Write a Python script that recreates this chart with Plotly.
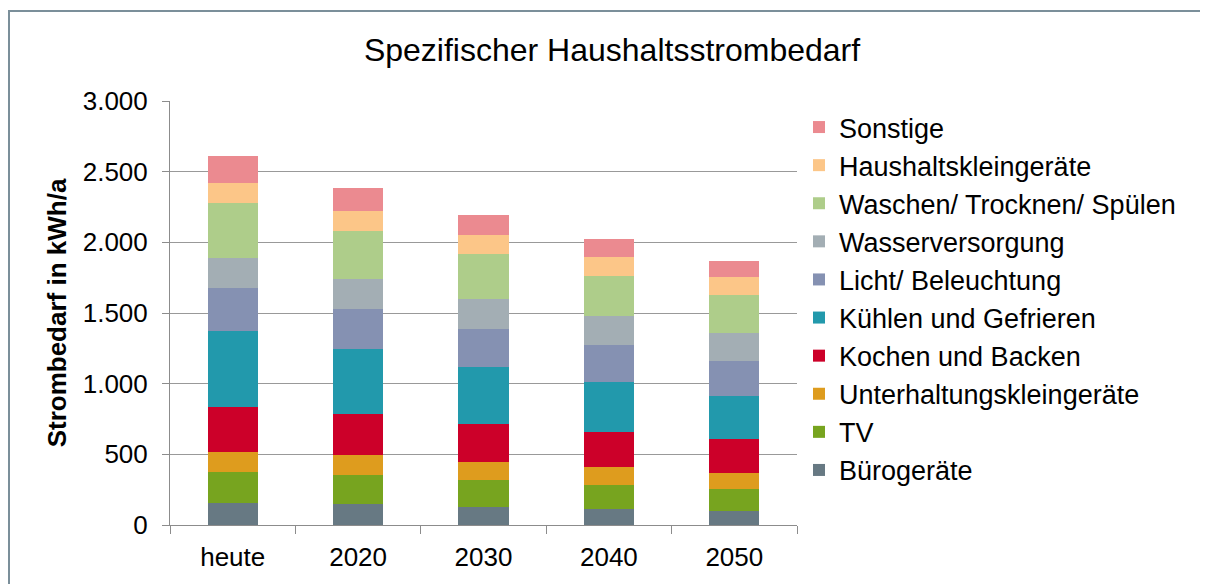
import plotly.graph_objects as go

categories = ["heute", "2020", "2030", "2040", "2050"]

# series, bottom to top
buerogeraete = [153, 146, 127, 111, 99]
tv = [221, 211, 189, 171, 154]
unterhaltung = [142, 139, 132, 125, 118]
kochen = [318, 292, 268, 249, 235]
kuehlen = [537, 454, 405, 353, 309]
licht = [304, 287, 269, 262, 245]
wasser = [214, 211, 210, 207, 201]
waschen = [386, 342, 318, 287, 266]
haushaltsklein = [144, 143, 134, 134, 131]
sonstige = [193, 160, 144, 125, 108]

series = [
    ("Bürogeräte", buerogeraete, "#677983"),
    ("TV", tv, "#77A41F"),
    ("Unterhaltungskleingeräte", unterhaltung, "#DE9C1E"),
    ("Kochen und Backen", kochen, "#CC0029"),
    ("Kühlen und Gefrieren", kuehlen, "#2299AC"),
    ("Licht/ Beleuchtung", licht, "#8591B2"),
    ("Wasserversorgung", wasser, "#A3AEB4"),
    ("Waschen/ Trocknen/ Spülen", waschen, "#AECD8A"),
    ("Haushaltskleingeräte", haushaltsklein, "#FCC688"),
    ("Sonstige", sonstige, "#EB8A90"),
]

yticks = [0, 500, 1000, 1500, 2000, 2500, 3000]
yticklabels = ["0", "500", "1.000", "1.500", "2.000", "2.500", "3.000"]

FONT = "Liberation Sans, Arial, sans-serif"

fig = go.Figure()
for i, (name, vals, col) in enumerate(series):
    fig.add_trace(go.Bar(
        x=categories, y=vals, name=name, legendrank=100 - i,
        marker=dict(color=col, line=dict(width=0)),
    ))

OFF = 8  # page body margin
W, H = 1200, 576
L, R, T, B = 162, 411, 93, 59
pw, ph = W - L - R, H - T - B


def px(x):  # reference pixel -> plot paper fraction
    return (x - OFF - L) / pw


def py(y):
    return (H - B - (y - OFF)) / ph


fig.update_layout(
    width=W, height=H,
    margin=dict(l=L, r=R, t=T, b=B, autoexpand=False),
    barmode="stack", bargap=0.6,
    paper_bgcolor="white", plot_bgcolor="white",
    font=dict(family=FONT, size=26, color="#000000"),
    title=dict(text="Spezifischer Haushaltsstrombedarf", xref="container",
               x=(612 - OFF) / W, xanchor="center",
               yref="container", y=1 - (50 - OFF) / H, yanchor="middle",
               font=dict(size=32, family=FONT)),
    showlegend=True,
    legend=dict(x=px(799), xanchor="left", y=py(103), yanchor="top",
                traceorder="normal",
                font=dict(size=27, family=FONT), bgcolor="rgba(0,0,0,0)"),
    xaxis=dict(showline=True, linecolor="#8C8C8C", linewidth=1,
               ticks="outside", ticklen=8, tickcolor="#8C8C8C", tickson="boundaries",
               tickfont=dict(size=26), showgrid=False, ticklabelstandoff=9),
    yaxis=dict(range=[0, 3000], tickvals=yticks, ticktext=yticklabels,
               showline=True, linecolor="#8C8C8C", linewidth=1,
               ticks="outside", ticklen=7, tickcolor="#8C8C8C",
               showgrid=True, gridcolor="#999999", gridwidth=1,
               tickfont=dict(size=26), zeroline=False, ticklabelstandoff=9,
               title=dict(text="<b>Strombedarf in kWh/a</b>", font=dict(size=26), standoff=8)),
    shapes=[dict(type="rect", xref="paper", yref="paper",
                 x0=px(9), x1=px(1230), y0=py(11), y1=py(600),
                 line=dict(color="#7B8F9A", width=2), fillcolor="rgba(0,0,0,0)", layer="below")],
)

fig.write_html("out.html")
